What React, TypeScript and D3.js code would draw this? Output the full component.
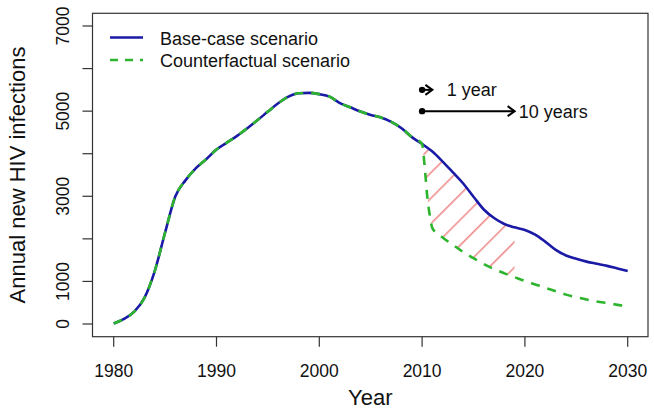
import React from "react";
import * as d3 from "d3";

const baseYears = d3.range(1980, 2031);
const baseValues = [
  10, 120, 290, 620, 1250, 2150, 3000, 3380, 3660, 3870,
  4100, 4260, 4420, 4600, 4790, 4990, 5185, 5340, 5420, 5430,
  5400, 5340, 5190, 5090, 4990, 4910, 4850, 4750, 4600, 4390,
  4230, 4050, 3815, 3560, 3300, 2990, 2690, 2490, 2350, 2270,
  2210, 2100, 1930, 1740, 1610, 1530, 1465, 1415, 1365, 1305, 1245,
];

const cfYears = [
  2010, 2010.25, 2010.5, 2010.75, 2011, 2012, 2013, 2014, 2015, 2016, 2017,
  2018, 2019, 2020, 2021, 2022, 2023, 2024, 2025, 2026, 2027, 2028, 2029, 2030,
];
const cfValues = [
  4230, 3700, 3000, 2550, 2250, 2030, 1860, 1690, 1545, 1410, 1290,
  1190, 1100, 1010, 930, 850, 770, 690, 630, 575, 530, 490, 450, 410,
];

const xTicks = [1980, 1990, 2000, 2010, 2020, 2030];
const yTicks = [0, 1000, 2000, 3000, 4000, 5000, 6000, 7000];
const yTickLabels = ["0", "1000", "", "3000", "", "5000", "", "7000"];

const hatchStart = 2010;
const hatchEnd = 2019;

const arrowStart = 2010;
const arrowEnds = [2011, 2019];
const arrowValues = [5500, 5000];
const arrowLabels = ["1 year", "10 years"];
const arrowLabelYears = [2012.4, 2019.4];

const legendLabels = ["Base-case scenario", "Counterfactual scenario"];

const BLUE = "#1a1aa6";
const GREEN = "#2cb52c";
const HATCH = "#f08c8c";
const FONT = "Arial, 'Liberation Sans', sans-serif";

export default function App() {
  const W = 654, H = 411;
  const box = { l: 92.5, r: 648, t: 13.3, b: 336.7 };
  const x = d3.scaleLinear().domain([1980, 2030]).range([113.7, 627.7]);
  const y = d3.scaleLinear().domain([0, 7000]).range([324, 26]);

  const base = baseYears.map((yr, i) => [yr, baseValues[i]] as [number, number]);
  const cfFull = [
    ...base.filter((d) => d[0] < 2010),
    ...cfYears.map((yr, i) => [yr, cfValues[i]] as [number, number]),
  ];

  const line = d3
    .line<[number, number]>()
    .x((d) => x(d[0]))
    .y((d) => y(d[1]))
    .curve(d3.curveMonotoneX);

  const baseSeg = base.filter((d) => d[0] >= hatchStart && d[0] <= hatchEnd);
  const cfSeg = cfYears
    .map((yr, i) => [yr, cfValues[i]] as [number, number])
    .filter((d) => d[0] >= hatchStart && d[0] <= hatchEnd);
  const poly = [...baseSeg, ...cfSeg.slice().reverse()];
  const polyPath =
    "M" + poly.map((d) => `${x(d[0])},${y(d[1])}`).join("L") + "Z";

  const fs = 17.5;

  return (
    <svg
      width={W}
      height={H}
      style={{ position: "absolute", left: 0, top: 0, background: "#fff" }}
      fontFamily={FONT}
    >
      <defs>
        <pattern
          id="hatch"
          patternUnits="userSpaceOnUse"
          width={18}
          height={18}
          patternTransform="rotate(45)"
        >
          <line x1={12.8} y1={-2} x2={12.8} y2={20} stroke={HATCH} strokeWidth={1.6} />
        </pattern>
      </defs>
      <rect x={0} y={0} width={W} height={H} fill="#fff" />

      {/* hatch */}
      <path d={polyPath} fill="url(#hatch)" stroke="none" />

      {/* lines */}
      <path d={line(base) || ""} fill="none" stroke={BLUE} strokeWidth={2.6} />
      <path
        d={line(cfFull) || ""}
        fill="none"
        stroke={GREEN}
        strokeWidth={2.6}
        strokeDasharray="9,8"
      />

      {/* box */}
      <rect
        x={box.l}
        y={box.t}
        width={box.r - box.l}
        height={box.b - box.t}
        fill="none"
        stroke="#333"
        strokeWidth={1.2}
      />

      {/* x axis */}
      {xTicks.map((t) => (
        <g key={t}>
          <line x1={x(t)} x2={x(t)} y1={box.b} y2={box.b + 10} stroke="#333" strokeWidth={1.2} />
          <text x={x(t)} y={377} textAnchor="middle" fontSize={fs} fill="#111">
            {t}
          </text>
        </g>
      ))}
      <text x={(box.l + box.r) / 2} y={405} textAnchor="middle" fontSize={22} fill="#111">
        Year
      </text>

      {/* y axis */}
      {yTicks.map((t, i) => (
        <g key={t}>
          <line x1={box.l - 10} x2={box.l} y1={y(t)} y2={y(t)} stroke="#333" strokeWidth={1.2} />
          {yTickLabels[i] && (
            <text
              transform={`translate(68.5,${y(t)}) rotate(-90)`}
              textAnchor="middle"
              fontSize={fs}
              fill="#111"
            >
              {yTickLabels[i]}
            </text>
          )}
        </g>
      ))}
      <text
        transform={`translate(25,${(box.t + box.b) / 2}) rotate(-90)`}
        textAnchor="middle"
        fontSize={22}
        fill="#111"
      >
        Annual new HIV infections
      </text>

      {/* legend */}
      <line x1={110} x2={143} y1={37.5} y2={37.5} stroke={BLUE} strokeWidth={2.6} />
      <text x={160} y={45} fontSize={18} fill="#111">
        {legendLabels[0]}
      </text>
      <line
        x1={110}
        x2={143}
        y1={60}
        y2={60}
        stroke={GREEN}
        strokeWidth={2.6}
        strokeDasharray="8,7"
      />
      <text x={160} y={67} fontSize={18} fill="#111">
        {legendLabels[1]}
      </text>

      {/* arrows */}
      {arrowEnds.map((e, i) => {
        const x0 = x(arrowStart);
        const x1 = x(e);
        const yy = y(arrowValues[i]);
        return (
          <g key={i}>
            <line x1={x0} x2={x1} y1={yy} y2={yy} stroke="#000" strokeWidth={2} />
            <path
              d={`M${x1 - 7},${yy - 5}L${x1},${yy}L${x1 - 7},${yy + 5}`}
              fill="none"
              stroke="#000"
              strokeWidth={2}
            />
            <circle cx={x0} cy={yy} r={3.2} fill="#000" />
            <text x={x(arrowLabelYears[i])} y={yy + 6.5} fontSize={18} fill="#111">
              {arrowLabels[i]}
            </text>
          </g>
        );
      })}
    </svg>
  );
}
